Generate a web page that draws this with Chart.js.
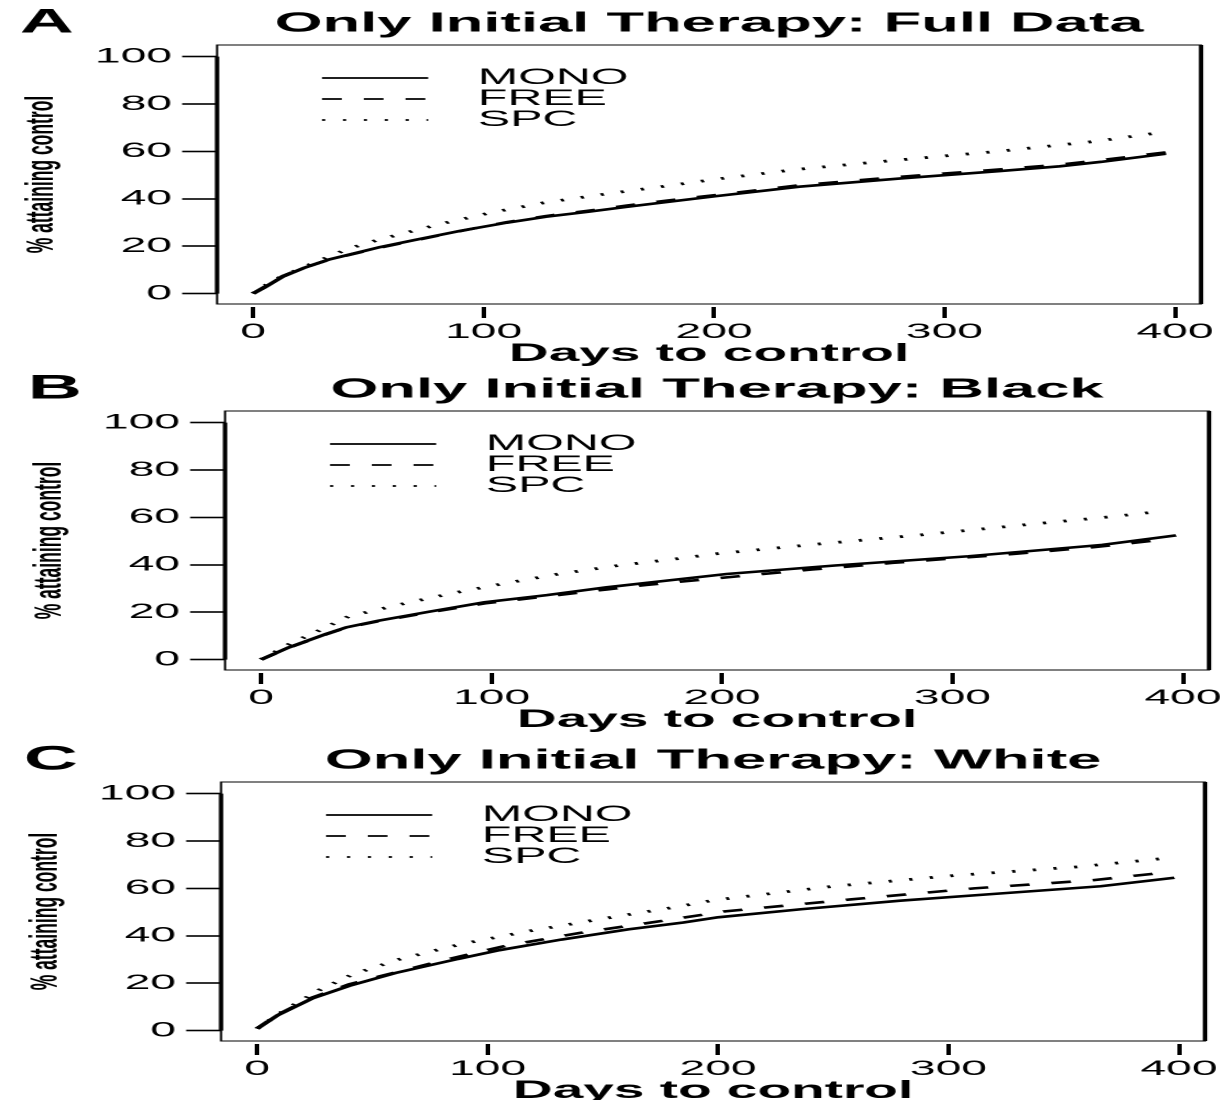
<!DOCTYPE html>
<html>
<head>
<meta charset="utf-8">
<title>Only Initial Therapy</title>
<script src="https://cdn.jsdelivr.net/npm/chart.js@4.4.0/dist/chart.umd.min.js"></script>
<style>
  html, body { margin: 0; padding: 0; background: #fff; overflow: hidden; }
  #page { position: relative; width: 1225px; height: 1100px; overflow: hidden; background: #fff; }
  canvas.panel { position: absolute; }
</style>
</head>
<body>
<div id="page">
  <!-- the source figure is an R plot stretched ~2.2x sideways, so each canvas is drawn narrow and widened by CSS -->
  <canvas id="panelA" class="panel" width="557" height="367" style="left:0px;top:0px;width:1225px;height:367px"></canvas>
  <canvas id="panelB" class="panel" width="557" height="367" style="left:8px;top:366px;width:1225px;height:367px"></canvas>
  <canvas id="panelC" class="panel" width="557" height="367" style="left:4px;top:737px;width:1225px;height:367px"></canvas>
</div>
<script>
// Axis ticks and labels
const xTicks = [0, 100, 200, 300, 400];
const yTicks = [0, 20, 40, 60, 80, 100];
const seriesNames = ['MONO', 'FREE', 'SPC'];
const panelLetters = ['A', 'B', 'C'];
const panelTitles = [
  'Only Initial Therapy: Full Data',
  'Only Initial Therapy: Black',
  'Only Initial Therapy: White'
];

// [days, % attaining control]
const monoA = [[0,0],[5,2.6],[13,7.2],[22,10.8],[33,14.4],[45,17.2],[55,19.6],[70,22.6],[90,26.5],[110,29.9],[127,32.4],[145,34.5],[162,36.6],[180,38.7],[200,41.0],[237,45.1],[281,48.6],[324,51.7],[350,53.7],[368,55.6],[396,59.0]];
const freeA = [[0,0],[5,2.8],[13,7.4],[22,10.9],[33,14.3],[45,17.1],[55,19.4],[70,22.4],[90,26.4],[110,30.1],[127,32.7],[145,34.9],[162,37.1],[180,39.3],[200,41.5],[237,45.7],[281,49.3],[324,52.4],[350,54.4],[368,56.3],[396,59.6]];
const spcA  = [[0,0],[9,5.7],[25,12.4],[41,18.8],[54,22.6],[81,29.3],[104,34.3],[126,38.3],[152,41.9],[177,45.1],[201,48.3],[236,52.4],[279,56.3],[323,60.0],[366,64.3],[391,67.6]];

const monoB = [[0,0],[12,5.1],[28,10.7],[37,13.6],[51,16.4],[73,20.2],[97,24.2],[124,27.2],[150,30.5],[176,33.3],[202,36.1],[249,39.7],[307,43.6],[365,48.4],[397,52.4]];
const freeB = [[0,0],[12,5.0],[28,10.6],[37,13.5],[51,16.2],[73,19.9],[97,23.7],[124,26.7],[150,29.6],[167,31.5],[202,34.7],[239,38.0],[274,40.8],[327,44.6],[362,47.5],[379,49.3],[395,51.0]];
const spcB  = [[0,0],[13,6.9],[24,11.7],[38,18.2],[61,23.4],[83,28.0],[106,32.2],[129,36.1],[155,39.7],[180,42.5],[197,44.6],[240,48.6],[284,52.4],[336,57.3],[371,60.5],[388,62.3]];

const monoC = [[0,0.8],[9,6.5],[24,13.6],[40,18.9],[60,24.3],[87,30.2],[105,33.9],[132,38.4],[161,42.7],[185,45.6],[200,47.8],[236,51.2],[279,54.8],[323,57.9],[366,60.9],[398,64.5]];
const freeC = [[0,0.8],[9,6.7],[24,13.9],[40,19.5],[53,22.8],[82,29.9],[108,35.8],[140,41.2],[171,45.6],[203,50.3],[258,55.4],[311,60.0],[363,63.5],[395,66.8]];
const spcC  = [[0,0.8],[12,8.6],[27,17.1],[41,23.5],[61,29.9],[89,36.6],[118,42.0],[150,47.2],[182,52.2],[198,55.0],[250,60.9],[302,65.4],[356,69.1],[392,72.5]];

const panelSeries = [
  [monoA, freeA, spcA],
  [monoB, freeB, spcB],
  [monoC, freeC, spcC]
];

// line types: solid, dashed, dotted (in unstretched canvas px)
const lineStyles = [
  { borderDash: [], borderWidth: 2.6 },
  { borderDash: [9, 10], borderWidth: 2.6 },
  { borderDash: [1.5, 8], borderWidth: 2.8 }
];

Chart.defaults.font.family = '"Liberation Sans", Arial, sans-serif';
Chart.defaults.color = '#000';

// R style frame, panel letter and legend
const framePlugin = {
  id: 'rFrame',
  afterDraw(chart, args, opts) {
    const { ctx, chartArea: a } = chart;
    const y = chart.scales.y;
    ctx.save();
    ctx.strokeStyle = '#000';
    ctx.fillStyle = '#000';
    ctx.lineWidth = 1;
    ctx.strokeRect(a.left, a.top, a.right - a.left, a.bottom - a.top);

    // axis line over the tick range, thick right edge
    ctx.lineWidth = 2;
    ctx.beginPath();
    ctx.moveTo(a.left, y.getPixelForValue(yTicks[0]));
    ctx.lineTo(a.left, y.getPixelForValue(yTicks[yTicks.length - 1]));
    ctx.moveTo(a.right, a.top);
    ctx.lineTo(a.right, a.bottom);
    ctx.stroke();

    ctx.font = 'bold 34px "Liberation Sans", Arial, sans-serif';
    ctx.textBaseline = 'middle';
    ctx.textAlign = 'left';
    ctx.fillText(opts.letter, 9, 23);

    // legend
    ctx.font = '22px "Liberation Sans", Arial, sans-serif';
    chart.data.datasets.forEach((ds, i) => {
      const ly = a.top + 33 + i * 21;
      ctx.lineWidth = 1.8;
      ctx.setLineDash(ds.borderDash || []);
      ctx.beginPath();
      ctx.moveTo(a.left + 47.7, ly);
      ctx.lineTo(a.left + 96, ly);
      ctx.stroke();
      ctx.setLineDash([]);
      ctx.fillText(ds.label, a.left + 118.6, ly);
    });
    ctx.restore();
  }
};

function buildPanel(canvasId, idx) {
  const datasets = panelSeries[idx].map((pts, i) => ({
    label: seriesNames[i],
    data: pts.map(([d, v]) => ({ x: d, y: v })),
    borderColor: '#000',
    borderWidth: lineStyles[i].borderWidth,
    borderDash: lineStyles[i].borderDash,
    pointRadius: 0,
    fill: false,
    tension: 0
  }));

  return new Chart(document.getElementById(canvasId), {
    type: 'line',
    data: { datasets },
    options: {
      responsive: false,
      devicePixelRatio: 2,
      animation: false,
      events: [],
      layout: { padding: { left: 0, right: 10.9, top: 0, bottom: 0 } },
      plugins: {
        legend: { display: false },
        tooltip: { enabled: false },
        title: {
          display: true,
          text: panelTitles[idx],
          fullSize: false,
          color: '#000',
          font: { size: 28, weight: 'bold', lineHeight: 1.2 },
          padding: { top: 7, bottom: 4.4 }
        },
        rFrame: { letter: panelLetters[idx] }
      },
      scales: {
        x: {
          type: 'linear',
          min: -15.6,
          max: 411.3,
          afterBuildTicks: s => { s.ticks = xTicks.map(v => ({ value: v })); },
          afterFit: s => { s.height = 63; },
          border: { display: false },
          grid: {
            drawOnChartArea: false,
            drawTicks: true,
            tickLength: 14,
            tickWidth: 2,
            tickColor: '#000',
            tickBorderDash: [0, 3, 11, 20]
          },
          ticks: { autoSkip: false, maxRotation: 0, padding: 1.5, color: '#000', font: { size: 21 } },
          title: {
            display: true,
            text: 'Days to control',
            color: '#000',
            font: { size: 25, weight: 'bold', lineHeight: 1 },
            padding: { top: 0, bottom: 0.5 }
          }
        },
        y: {
          type: 'linear',
          min: -4.4,
          max: 104.9,
          afterBuildTicks: s => { s.ticks = yTicks.map(v => ({ value: v })); },
          afterFit: s => { s.width = 98.7; },
          border: { display: false },
          grid: {
            drawOnChartArea: false,
            drawTicks: true,
            tickLength: 15.9,
            tickWidth: 1.6,
            tickColor: '#000'
          },
          ticks: { padding: 4.6, color: '#000', font: { size: 21 } },
          title: {
            display: true,
            text: '% attaining control',
            color: '#000',
            font: { size: 17.5, weight: 'bold', lineHeight: 1.2 },
            padding: { top: 8.5, bottom: 0 }
          }
        }
      }
    },
    plugins: [framePlugin]
  });
}

buildPanel('panelA', 0);
buildPanel('panelB', 1);
buildPanel('panelC', 2);
</script>
</body>
</html>
